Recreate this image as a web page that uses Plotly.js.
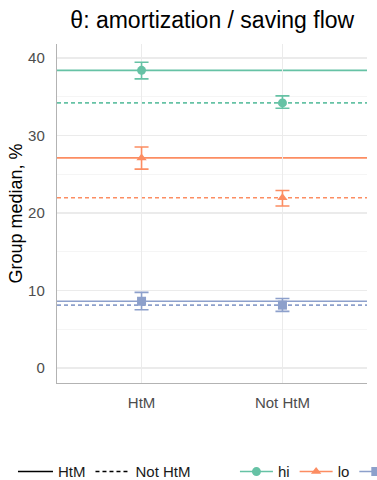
<!DOCTYPE html>
<html>
<head>
<meta charset="utf-8">
<script src="https://cdn.plot.ly/plotly-3.0.1.min.js"></script>
<style>html,body{margin:0;padding:0;background:#fff;}#chart{width:377px;height:480px;}</style>
</head>
<body>
<div id="chart"></div>
<script>
// ---- data ----
var categories = ["HtM", "Not HtM"];
var groups = ["hi", "lo", "mid"];
var medianHtM = [38.4, 27.1, 8.6];
var medianNotHtM = [34.2, 21.95, 8.1];
var lowerHtM = [37.3, 25.65, 7.5];
var upperHtM = [39.45, 28.5, 9.75];
var lowerNotHtM = [33.5, 20.9, 7.3];
var upperNotHtM = [35.1, 22.9, 8.95];
var yTicks = [0, 10, 20, 30, 40];
var yTickLabels = ["0", "10", "20", "30", "40"];

// ---- styles ----
var colors = ["#66C2A5", "#FC8D62", "#8DA0CB"];
var symbols = ["circle", "triangle-up", "square"];
var font = "Liberation Sans, Arial, sans-serif";
var dashPat = "4px,3px";

var traces = [];
var shapes = [];
for (var i = 0; i < groups.length; i++) {
  var ys = [medianHtM[i], medianNotHtM[i]];
  var up = [upperHtM[i] - medianHtM[i], upperNotHtM[i] - medianNotHtM[i]];
  var dn = [medianHtM[i] - lowerHtM[i], medianNotHtM[i] - lowerNotHtM[i]];
  // reference lines (group medians) spanning the panel
  shapes.push({type: "line", xref: "x", yref: "y", x0: -0.6, x1: 1.6,
    y0: medianHtM[i], y1: medianHtM[i], layer: "below",
    line: {color: colors[i], width: 1.6}});
  shapes.push({type: "line", xref: "x", yref: "y", x0: -0.6, x1: 1.6,
    y0: medianNotHtM[i], y1: medianNotHtM[i], layer: "below",
    line: {color: colors[i], width: 1.6, dash: dashPat}});
  traces.push({
    type: "scatter", mode: "markers", x: categories, y: ys,
    marker: {color: colors[i], symbol: symbols[i], size: 9},
    error_y: {type: "data", symmetric: false, array: up, arrayminus: dn,
      color: colors[i], thickness: 1.6, width: 7},
    showlegend: false, hoverinfo: "skip", cliponaxis: false
  });
}
// linetype legend
traces.push({type: "scatter", mode: "lines", x: [null], y: [null], name: "HtM",
  line: {color: "#000", width: 1.6}, legend: "legend"});
traces.push({type: "scatter", mode: "lines", x: [null], y: [null], name: "Not HtM",
  line: {color: "#000", width: 1.6, dash: dashPat}, legend: "legend"});
// colour legend
for (var j = 0; j < groups.length; j++) {
  traces.push({type: "scatter", mode: "lines+markers", x: [null], y: [null], name: groups[j],
    line: {color: colors[j], width: 1.6},
    marker: {color: colors[j], symbol: symbols[j], size: 9}, legend: "legend2"});
}

var layout = {
  width: 377, height: 480,
  margin: {l: 57, r: 10, t: 44, b: 97, autoexpand: false},
  paper_bgcolor: "#fff", plot_bgcolor: "#fff",
  font: {family: font, size: 15, color: "#1a1a1a"},
  title: {text: "θ: amortization / saving flow", font: {family: font, size: 23, color: "#000"},
    x: 0.563, xanchor: "center", y: 0.958, yanchor: "middle", yref: "container"},
  xaxis: {
    type: "category", range: [-0.6, 1.6], showgrid: true, gridcolor: "#ebebeb", gridwidth: 1.3,
    showline: true, linecolor: "#b3b3b3", linewidth: 1.2, ticks: "", zeroline: false,
    tickfont: {family: font, size: 15, color: "#4d4d4d"}, ticklabelstandoff: 6, fixedrange: true
  },
  yaxis: {
    range: [-1.95, 41.8], tickvals: yTicks, ticktext: yTickLabels,
    showgrid: true, gridcolor: "#ebebeb", gridwidth: 1.3,
    minor: {dtick: 5, tick0: 0, showgrid: true, gridcolor: "#f2f2f2", gridwidth: 0.8},
    showline: true, linecolor: "#b3b3b3", linewidth: 1.2, ticks: "", zeroline: false,
    tickfont: {family: font, size: 15, color: "#4d4d4d"}, ticklabelstandoff: 8,
    title: {text: "Group median, %", font: {family: font, size: 18, color: "#000"}, standoff: 0},
    automargin: false, fixedrange: true
  },
  shapes: shapes,
  legend: {orientation: "h", x: -0.142, xanchor: "left", y: -0.262, yanchor: "middle",
    font: {family: font, size: 15, color: "#1a1a1a"}, bgcolor: "rgba(0,0,0,0)",
    itemwidth: 35},
  legend2: {orientation: "h", x: 0.574, xanchor: "left", y: -0.262, yanchor: "middle",
    font: {family: font, size: 15, color: "#1a1a1a"}, bgcolor: "rgba(0,0,0,0)",
    itemwidth: 33},
  showlegend: true
};

Plotly.newPlot("chart", traces, layout, {displayModeBar: false, staticPlot: true});
</script>
</body>
</html>
